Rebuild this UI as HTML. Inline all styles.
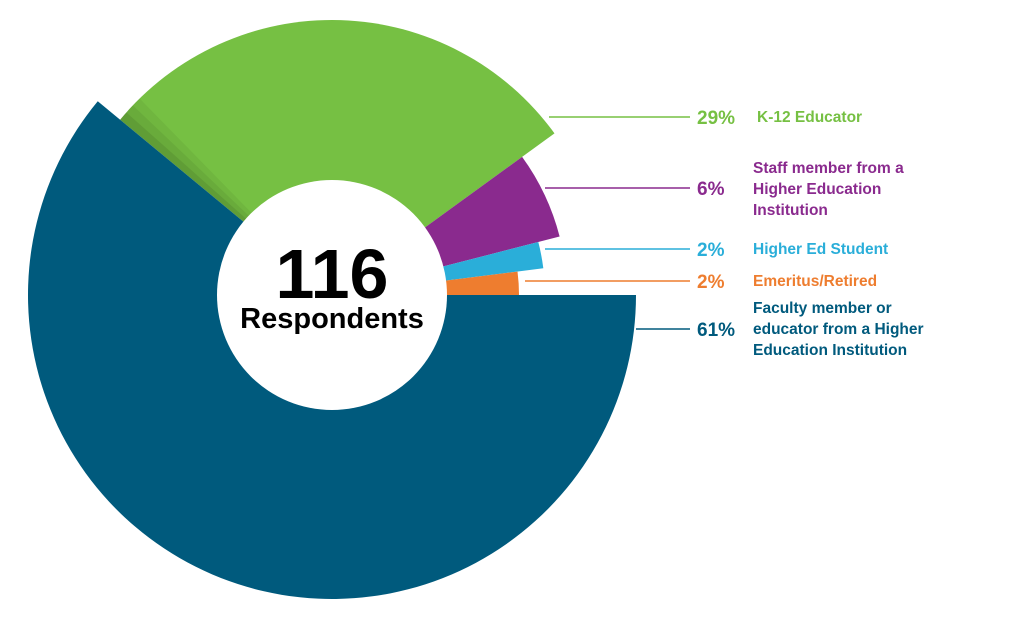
<!DOCTYPE html>
<html><head><meta charset="utf-8"><style>
html,body{margin:0;padding:0;background:#fff;}
svg{display:block;font-family:"Liberation Sans",sans-serif;font-weight:bold;}
</style></head><body>
<svg id="s" width="1024" height="625" viewBox="0 0 1024 625">
<g id="pie"></g>
<circle cx="332" cy="295" r="115" fill="#fff"/>
<text x="332" y="298" text-anchor="middle" font-size="70" fill="#000">116</text>
<text x="332" y="328" text-anchor="middle" font-size="29" fill="#000">Respondents</text>

<g stroke-width="1.5">
<line x1="549" y1="117" x2="690" y2="117" stroke="#76c043"/>
<line x1="545" y1="188" x2="690" y2="188" stroke="#8a2a8e"/>
<line x1="545" y1="249" x2="690" y2="249" stroke="#2aaed9"/>
<line x1="525" y1="281" x2="690" y2="281" stroke="#ee7d2f"/>
<line x1="636" y1="329" x2="690" y2="329" stroke="#005a7d"/>
</g>
<g font-size="19">
<text x="697" y="124" fill="#76c043">29%</text>
<text x="697" y="195" fill="#8a2a8e">6%</text>
<text x="697" y="256" fill="#2aaed9">2%</text>
<text x="697" y="288" fill="#ee7d2f">2%</text>
<text x="697" y="336" fill="#005a7d">61%</text>
</g>
<g font-size="15.5">
<text x="757" y="122" fill="#76c043">K-12 Educator</text>
<text x="753" y="173" fill="#8a2a8e">Staff member from a</text>
<text x="753" y="194" fill="#8a2a8e">Higher Education</text>
<text x="753" y="215" fill="#8a2a8e">Institution</text>
<text x="753" y="254" fill="#2aaed9">Higher Ed Student</text>
<text x="753" y="286" fill="#ee7d2f">Emeritus/Retired</text>
<text x="753" y="313" fill="#005a7d">Faculty member or</text>
<text x="753" y="334" fill="#005a7d">educator from a Higher</text>
<text x="753" y="355" fill="#005a7d">Education Institution</text>
</g>
</svg>
<script>
(function(){
var cx=332,cy=295,g=document.getElementById('pie'),ns='http://www.w3.org/2000/svg';
function pt(r,a){a=a*Math.PI/180;return [cx+r*Math.cos(a),cy+r*Math.sin(a)];}
function sec(a0,a1,r,c,op){
 var p0=pt(r,a0),p1=pt(r,a1),large=(a1-a0)>180?1:0;
 var d='M'+cx+','+cy+' L'+p0[0]+','+p0[1]+' A'+r+','+r+' 0 '+large+' 1 '+p1[0]+','+p1[1]+' Z';
 var e=document.createElementNS(ns,'path');e.setAttribute('d',d);e.setAttribute('fill',c);
 if(op)e.setAttribute('opacity',op);g.appendChild(e);
}
sec(219.6,324,275,'#76c043');
sec(219.6,225.6,275,'#000',0.05);
sec(219.6,223.6,275,'#000',0.06);
sec(219.6,221.6,275,'#000',0.08);
sec(324,345.6,235,'#8a2a8e');
sec(345.6,352.8,213,'#2aaed9');
sec(352.8,360,187,'#ee7d2f');
sec(0,219.6,304,'#005a7d');
})();
</script>
</body></html>
